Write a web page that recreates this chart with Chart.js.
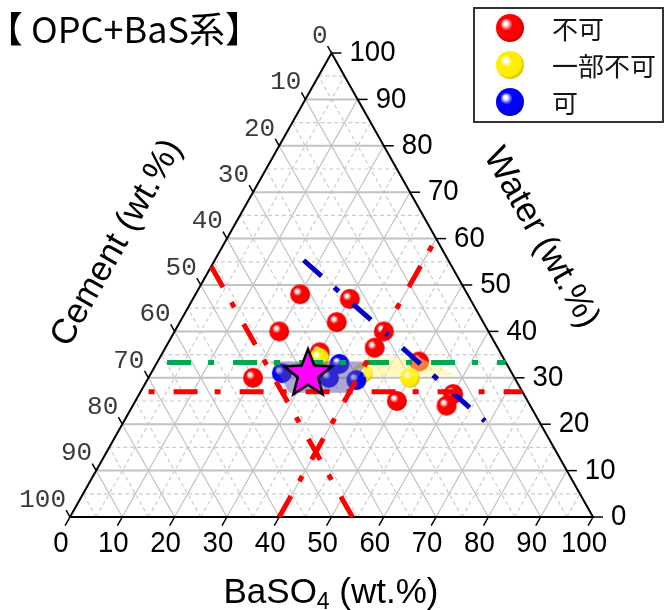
<!DOCTYPE html>
<html>
<head>
<meta charset="utf-8">
<script src="https://cdn.jsdelivr.net/npm/chart.js@4.4.1/dist/chart.umd.min.js"></script>
<style>
html, body { margin: 0; padding: 0; background: #fff; }
</style>
</head>
<body>
<canvas id="myChart" width="664" height="610"></canvas>
<script>
// axis ticks (same for all three axes)
const tickValues = [0, 10, 20, 30, 40, 50, 60, 70, 80, 90, 100];
const seriesNames = ["不可", "一部不可", "可"];

// measured mixes: BaSO4 and Water (wt.%), cement is the rest
const redBaSO4 = [20, 30, 30, 20, 40, 40, 30, 20, 50, 50, 60, 60];
const redWater = [48, 47, 42, 40, 40, 36.5, 35.5, 30, 33.5, 25, 26.5, 24];
const yellowBaSO4 = [50, 40.5, 30.5];
const yellowWater = [30, 31, 34.3];
const blueBaSO4 = [25, 35, 34.5, 40];
const blueWater = [31, 33, 30, 29.5];
const targetBaSO4 = [30];
const targetWater = [31];

// guide lines
const limitCement = 46;
const limitBaSO4 = 40;
const limitWater = 27;
const greenWater = 33.3;
const wcLineBaSO4 = [17, 69];   // water = 2 x cement

// shaded areas
const purpleBaSO4 = [21.8, 40, 40, 28.5];
const purpleWater = [33.5, 33.5, 26.8, 26.8];
const bandBaSO4 = [39, 50, 58.5, 41];
const bandWater = [34.2, 34.2, 30.6, 30.2];

const toXY = (b, w) => ({ x: b + w / 2, y: w });
const pairs = (bs, ws) => bs.map((b, i) => toXY(b, ws[i]));
const closed = (bs, ws) => { const p = pairs(bs, ws); p.push(p[0]); return p; };

function makeBall(r, base, dark) {
    const c = document.createElement("canvas");
    c.width = c.height = r * 2 + 2;
    const g = c.getContext("2d");
    const cx = r + 1, cy = r + 1;
    const grad = g.createRadialGradient(cx - r * 0.35, cy - r * 0.35, 0, cx - r * 0.1, cy - r * 0.1, r * 1.1);
    grad.addColorStop(0, "#ffffff");
    grad.addColorStop(0.12, "#ffffff");
    grad.addColorStop(0.4, base);
    grad.addColorStop(0.82, base);
    grad.addColorStop(1, dark);
    g.fillStyle = grad;
    g.beginPath();
    g.arc(cx, cy, r, 0, Math.PI * 2);
    g.fill();
    return c;
}

function makeStar(R) {
    const c = document.createElement("canvas");
    c.width = c.height = R * 2 + 10;
    const g = c.getContext("2d");
    const cx = R + 5, cy = R + 6;
    g.beginPath();
    for (let i = 0; i < 10; i++) {
        const a = -Math.PI / 2 + i * Math.PI / 5;
        const rad = i % 2 ? R * 0.43 : R;
        g.lineTo(cx + rad * Math.cos(a), cy + rad * Math.sin(a));
    }
    g.closePath();
    g.fillStyle = "#ff00ff";
    g.fill();
    g.lineWidth = 2.5;
    g.strokeStyle = "#000";
    g.stroke();
    return c;
}

const redBall = makeBall(10, "#ff0000", "#c80000");
const yellowBall = makeBall(10, "#ffee00", "#d8c400");
const blueBall = makeBall(10, "#0000ff", "#0000b4");
const legendBalls = [makeBall(14, "#ff0000", "#c80000"), makeBall(14, "#ffee00", "#d8c400"), makeBall(14, "#0000ff", "#0000b4")];
const star = makeStar(25);

const dashDot = [24, 17, 6, 19];

const lineSet = (data, color, offset) => ({
    type: "line",
    data: data,
    showLine: true,
    borderColor: color,
    borderWidth: 5,
    borderDash: dashDot,
    borderDashOffset: offset,
    borderCapStyle: "butt",
    pointRadius: 0,
    fill: false,
    tension: 0,
    clip: false,
    order: 1
});

const areaSet = (data, color) => ({
    type: "line",
    data: data,
    showLine: true,
    borderColor: "rgba(0,0,0,0)",
    borderWidth: 0,
    backgroundColor: color,
    pointRadius: 0,
    fill: "shape",
    tension: 0,
    order: 2
});

const ballSet = (data, img, order) => ({
    data: data,
    pointStyle: img,
    pointRadius: 10,
    clip: false,
    order: order
});

const ternaryPlugin = {
    id: "ternary",
    beforeDatasetsDraw(chart) {
        const ctx = chart.ctx;
        const xs = chart.scales.x, ys = chart.scales.y;
        const P = (b, w) => [xs.getPixelForValue(b + w / 2), ys.getPixelForValue(w)];
        const seg = (a, b) => { ctx.beginPath(); ctx.moveTo(a[0], a[1]); ctx.lineTo(b[0], b[1]); ctx.stroke(); };
        ctx.save();
        for (let k = 5; k < 100; k += 5) {
            const major = k % 10 === 0;
            ctx.setLineDash(major ? [] : [4, 3]);
            ctx.strokeStyle = major ? "#c2c2c2" : "#cccccc";
            ctx.lineWidth = 1.2;
            // constant BaSO4
            seg(P(k, 0), P(k, 100 - k));
            // constant cement
            seg(P(100 - k, 0), P(0, 100 - k));
            // constant water
            ctx.lineWidth = major ? 2 : 1.2;
            seg(P(0, k), P(100 - k, k));
        }
        ctx.setLineDash([]);
        ctx.strokeStyle = "#000";
        ctx.lineWidth = 2;
        ctx.beginPath();
        const a = P(0, 0), b = P(100, 0), c = P(0, 100);
        ctx.moveTo(a[0], a[1]); ctx.lineTo(b[0], b[1]); ctx.lineTo(c[0], c[1]); ctx.closePath();
        ctx.stroke();
        ctx.lineWidth = 1.5;
        tickValues.forEach(t => {
            // bottom: BaSO4
            let p = P(t, 0);
            seg(p, [p[0] - 0.49 * 10, p[1] + 0.87 * 10]);
            // right: Water
            p = P(100 - t, t);
            seg(p, [p[0] + 10, p[1]]);
            // left: Cement
            p = P(0, 100 - t);
            seg(p, [p[0] - 0.49 * 8, p[1] - 0.87 * 8]);
        });
        ctx.restore();
    },
    afterDraw(chart) {
        const ctx = chart.ctx;
        const xs = chart.scales.x, ys = chart.scales.y;
        const P = (b, w) => [xs.getPixelForValue(b + w / 2), ys.getPixelForValue(w)];
        ctx.save();
        const sans = "'Liberation Sans', Arial, sans-serif";
        const narrow = (t, x, y, align) => {
            ctx.save();
            ctx.translate(x, y);
            ctx.scale(0.92, 1);
            ctx.textAlign = align;
            ctx.fillText(t, 0, 0);
            ctx.restore();
        };
        ctx.fillStyle = "#000";
        ctx.textBaseline = "middle";
        ctx.font = "30px " + sans;
        tickValues.forEach(t => {
            let p = P(t, 0);
            narrow(String(t), p[0] - 9, p[1] + 27, "center");
            p = P(100 - t, t);
            narrow(String(t), p[0] + 18, p[1], "left");
        });
        ctx.fillStyle = "#3a3a3a";
        ctx.font = "26px 'Liberation Mono', 'DejaVu Sans Mono', monospace";
        ctx.textAlign = "right";
        tickValues.forEach(t => {
            const p = P(0, 100 - t);
            ctx.fillText(String(t), p[0] - 4, p[1] - 17);
        });

        // axis titles
        ctx.fillStyle = "#000";
        ctx.font = "35px " + sans;
        ctx.textAlign = "center";
        ctx.save();
        ctx.translate(117, 243);
        ctx.rotate(-60.5 * Math.PI / 180);
        ctx.fillText("Cement (wt.%)", 0, 0);
        ctx.restore();
        ctx.save();
        ctx.translate(541, 238);
        ctx.rotate(60.5 * Math.PI / 180);
        ctx.fillText("Water (wt.%)", 0, 0);
        ctx.restore();

        ctx.textBaseline = "alphabetic";
        ctx.textAlign = "left";
        const w1 = ctx.measureText("BaSO").width;
        const w3 = ctx.measureText(" (wt.%)").width;
        ctx.font = "23px " + sans;
        const w2 = ctx.measureText("4").width;
        let x0 = 331 - (w1 + w2 + w3) / 2;
        ctx.font = "35px " + sans;
        ctx.fillText("BaSO", x0, 603);
        ctx.font = "23px " + sans;
        ctx.fillText("4", x0 + w1, 609);
        ctx.font = "35px " + sans;
        ctx.fillText(" (wt.%)", x0 + w1 + w2, 603);

        // title
        ctx.font = "36px 'Noto Sans CJK JP', 'Noto Sans', sans-serif";
        ctx.fillText("【 OPC+BaS系】", -13, 43);

        // legend
        ctx.fillStyle = "#fff";
        ctx.fillRect(474, 8, 189, 114);
        ctx.strokeStyle = "#333";
        ctx.lineWidth = 2;
        ctx.strokeRect(474, 8, 189, 114);
        ctx.font = "26px 'Noto Sans CJK JP', sans-serif";
        ctx.fillStyle = "#151515";
        ctx.textBaseline = "middle";
        seriesNames.forEach((name, i) => {
            const y = 28 + i * 37;
            const img = legendBalls[i];
            ctx.drawImage(img, 510 - img.width / 2, y - img.height / 2);
            ctx.fillText(name, 552, y + 1);
        });
        ctx.restore();
    }
};

const graphics = document.getElementById("myChart");

const config = {
    type: "scatter",
    data: {
        datasets: [
            { data: pairs(targetBaSO4, targetWater), pointStyle: star, pointRadius: 25, clip: false, order: 0 },
            lineSet([toXY(0, 100 - limitCement), toXY(100 - limitCement, 0)], "#ff0000", 0),
            lineSet([toXY(limitBaSO4, 0), toXY(limitBaSO4, 100 - limitBaSO4)], "#ff0000", 0),
            lineSet([toXY(0, limitWater), toXY(100 - limitWater, limitWater)], "#ff0000", 33),
            lineSet([toXY(0, greenWater), toXY(100 - greenWater, greenWater)], "#00a84f", 56),
            lineSet(wcLineBaSO4.map(b => toXY(b, (100 - b) / 1.5)), "#0000c8", 0),
            areaSet(closed(purpleBaSO4, purpleWater), "rgba(90, 80, 170, 0.5)"),
            areaSet(closed(bandBaSO4, bandWater), "rgba(255, 245, 120, 0.5)"),
            ballSet(pairs(blueBaSO4, blueWater), blueBall, 3),
            ballSet(pairs(yellowBaSO4, yellowWater), yellowBall, 4),
            ballSet(pairs(redBaSO4, redWater), redBall, 5)
        ]
    },
    options: {
        responsive: false,
        animation: false,
        events: [],
        layout: { padding: { left: 70, right: 71, top: 53, bottom: 93 } },
        scales: {
            x: { type: "linear", min: 0, max: 100, display: false },
            y: { type: "linear", min: 0, max: 100, display: false }
        },
        plugins: {
            legend: { display: false },
            tooltip: { enabled: false }
        }
    },
    plugins: [ternaryPlugin]
};

const myGraph = new Chart(graphics, config);
</script>
</body>
</html>
